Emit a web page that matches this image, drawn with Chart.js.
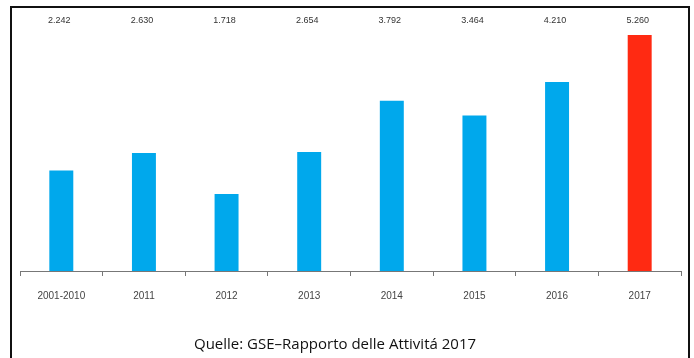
<!DOCTYPE html>
<html>
<head>
<meta charset="utf-8">
<script src="https://cdn.jsdelivr.net/npm/chart.js@4.4.1/dist/chart.umd.min.js"></script>
<style>
  html, body { margin: 0; padding: 0; background: #fff; }
  #wrap { position: relative; width: 694px; height: 358px; overflow: hidden; }
  #frame { position: absolute; left: 10px; top: 6px; width: 680px; height: 400px; border: 2px solid #111; box-sizing: border-box; pointer-events: none; }
  canvas { position: absolute; left: 0; top: 0; }
</style>
</head>
<body>
<div id="wrap">
  <canvas id="c" width="694" height="358"></canvas>
  <div id="frame"></div>
</div>
<script>
const categories = ["2001-2010", "2011", "2012", "2013", "2014", "2015", "2016", "2017"];
const values = [2242, 2630, 1718, 2654, 3792, 3464, 4210, 5260];
const valueLabels = ["2.242", "2.630", "1.718", "2.654", "3.792", "3.464", "4.210", "5.260"];
const barColors = ["#00a8ec", "#00a8ec", "#00a8ec", "#00a8ec", "#00a8ec", "#00a8ec", "#00a8ec", "#ff2a12"];
const sourceText = "Quelle: GSE\u2013Rapporto delle Attivitá 2017";

const extraText = {
  id: 'extraText',
  afterDatasetsDraw(chart) {
    const ctx = chart.ctx;
    const meta = chart.getDatasetMeta(0);
    ctx.save();
    ctx.font = '9px "Liberation Sans", sans-serif';
    ctx.fillStyle = '#333';
    ctx.textAlign = 'center';
    ctx.textBaseline = 'middle';
    meta.data.forEach((bar, i) => {
      ctx.fillText(valueLabels[i], bar.x - 2, 21);
    });
    ctx.font = '15px "Open Sans", sans-serif';
    ctx.fillStyle = '#111';
    ctx.fillText(sourceText, 335, 345);
    ctx.restore();
  }
};

new Chart(document.getElementById('c'), {
  type: 'bar',
  data: {
    labels: categories,
    datasets: [{
      data: values,
      backgroundColor: barColors,
      borderWidth: 0,
      categoryPercentage: 1,
      barPercentage: 0.29
    }]
  },
  options: {
    responsive: false,
    animation: false,
    devicePixelRatio: 1,
    layout: { padding: { left: 20, right: 13, top: 35, bottom: 0 } },
    plugins: { legend: { display: false }, tooltip: { enabled: false }, title: { display: false } },
    scales: {
      y: { display: false, min: 0, max: 5260 },
      x: {
        afterFit(scale) { scale.height = 87; },
        grid: { display: true, drawOnChartArea: false, offset: true, color: '#777', tickLength: 5, tickColor: '#777' },
        border: { display: true, color: '#777', width: 1 },
        ticks: { color: '#444', font: { family: '"Liberation Sans", sans-serif', size: 10 }, padding: 14, maxRotation: 0, autoSkip: false }
      }
    }
  },
  plugins: [extraText]
});
</script>
</body>
</html>
